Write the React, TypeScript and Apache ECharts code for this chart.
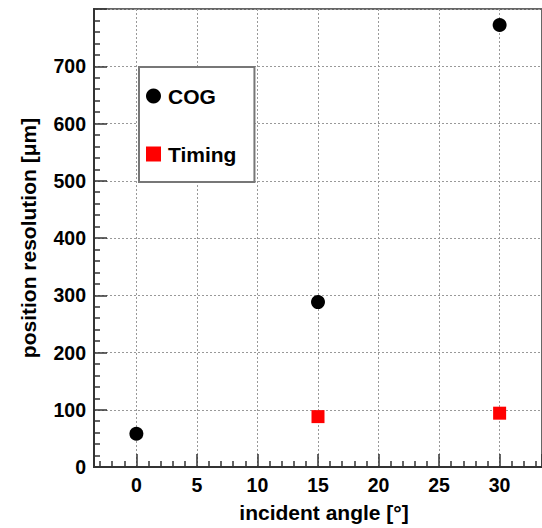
import React, { useEffect, useRef } from "react";
import * as echarts from "echarts";

const cogAngles = [0, 15, 30];
const cogValues = [58, 288, 772];
const timingAngles = [15, 30];
const timingValues = [88, 94];
const xTitle = "incident angle [°]";
const yTitle = "position resolution [μm]";

export default function App() {
  const ref = useRef<HTMLDivElement>(null);
  useEffect(() => {
    const chart = echarts.init(ref.current!, null, { renderer: "svg" });
    const font = '"Liberation Sans", Arial, Helvetica, sans-serif';
    const tickLine = { color: "#333", width: 1.5 };
    chart.setOption({
      animation: false,
      backgroundColor: "#fff",
      textStyle: { fontFamily: font },
      grid: {
        left: 94,
        top: 9,
        right: 0,
        bottom: 58,
        show: true,
        borderColor: "#666",
        borderWidth: 2,
        backgroundColor: "transparent",
      },
      legend: {
        orient: "vertical",
        left: 139,
        top: 67,
        padding: [17, 18, 16, 7],
        itemGap: 34,
        itemWidth: 15,
        itemHeight: 15,
        backgroundColor: "#fff",
        borderColor: "#777",
        borderWidth: 2,
        borderRadius: 0,
        textStyle: { fontSize: 21, fontWeight: "bold", color: "#000", fontFamily: font, lineHeight: 24, padding: [0, 0, 0, 2] },
        data: [
          { name: "COG", icon: "circle" },
          { name: "Timing", icon: "rect" },
        ],
      },
      xAxis: {
        type: "value",
        min: -3.5,
        max: 33.5,
        splitNumber: 7,
        name: xTitle,
        nameLocation: "middle",
        nameGap: 35,
        nameTextStyle: { fontSize: 21, fontWeight: "bold", color: "#000", fontFamily: font, padding: [0, 0, 0, 12] },
        axisLine: { show: true, onZero: false, lineStyle: { color: "#333", width: 2 } },
        axisTick: { show: true, inside: true, length: 13, lineStyle: tickLine },
        minorTick: { show: true, splitNumber: 5, length: 6, lineStyle: tickLine },
        axisLabel: {
          showMinLabel: false,
          showMaxLabel: false,
          fontSize: 19.5,
          fontWeight: "bold",
          color: "#000",
          fontFamily: font,
          margin: 8,
        },
        splitLine: { show: true, lineStyle: { type: [2, 2], color: "#999", width: 1 } },
      },
      yAxis: {
        type: "value",
        min: 0,
        max: 800,
        interval: 100,
        name: yTitle,
        nameLocation: "middle",
        nameGap: 55,
        nameTextStyle: { fontSize: 21, fontWeight: "bold", color: "#000", fontFamily: font },
        axisLine: { show: true, onZero: false, lineStyle: { color: "#333", width: 2 } },
        axisTick: { show: true, inside: true, length: 13, lineStyle: tickLine },
        minorTick: { show: true, splitNumber: 5, length: 6, lineStyle: tickLine },
        axisLabel: {
          showMaxLabel: false,
          fontSize: 19.5,
          fontWeight: "bold",
          color: "#000",
          fontFamily: font,
          margin: 8,
        },
        splitLine: { show: true, lineStyle: { type: [2, 2], color: "#999", width: 1 } },
      },
      series: [
        {
          name: "COG",
          type: "scatter",
          symbol: "circle",
          symbolSize: 14,
          itemStyle: { color: "#000", opacity: 1 },
          data: cogAngles.map((a, i) => [a, cogValues[i]]),
          z: 5,
        },
        {
          name: "Timing",
          type: "scatter",
          symbol: "rect",
          symbolSize: 13,
          itemStyle: { color: "#ff0000", opacity: 1 },
          data: timingAngles.map((a, i) => [a, timingValues[i]]),
          z: 5,
        },
      ],
    });
    return () => chart.dispose();
  }, []);
  return <div ref={ref} style={{ position: "fixed", left: 0, top: 0, width: 542, height: 528 }} />;
}
